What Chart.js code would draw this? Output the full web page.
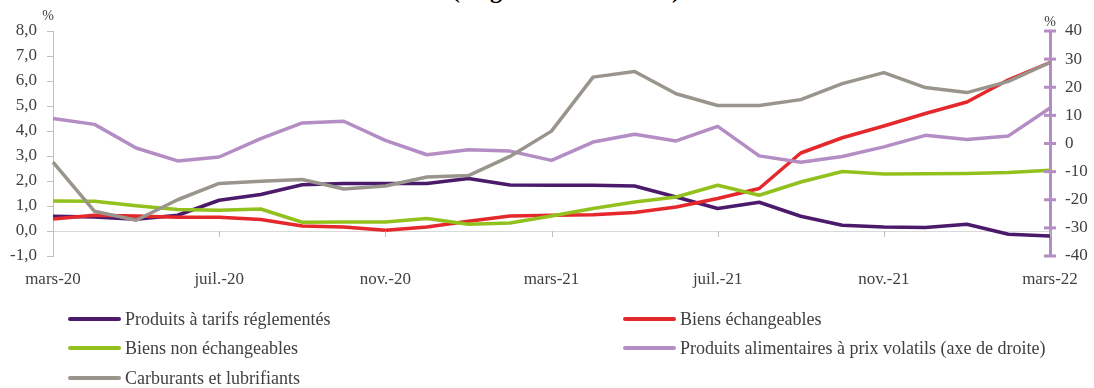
<!DOCTYPE html>
<html>
<head>
<meta charset="utf-8">
<script src="https://cdn.jsdelivr.net/npm/chart.js@4.4.1/dist/chart.umd.min.js"></script>
<style>
  body { margin: 0; background: #fff; width: 1094px; height: 388px; overflow: hidden; position: relative; font-family: "Liberation Serif", serif; }
  .title { position: absolute; left: 0; width: 1132px; top: -22px; text-align: center; font-weight: bold; font-size: 24px; line-height: 24px; color: #000; }
  #wrap { position: absolute; left: 0; top: 0; width: 1094px; height: 300px; }
  .legend { position: absolute; left: 0; top: 0; width: 1094px; height: 388px; pointer-events: none; }
  .item { position: absolute; display: flex; align-items: center; font-size: 18px; line-height: 20px; color: #404040; white-space: nowrap; }
  .item span.line { display: inline-block; width: 53px; height: 4px; margin-right: 4px; border-radius: 2px; }
</style>
</head>
<body>
<div class="title">(en glissement annuel)</div>
<div id="wrap"><canvas id="myChart" width="1094" height="300"></canvas></div>
<div class="legend" id="legend"></div>
<script>
const months = ['mars-20', 'avr.-20', 'mai-20', 'juin-20', 'juil.-20', 'août-20', 'sept.-20', 'oct.-20', 'nov.-20', 'déc.-20',
  'janv.-21', 'févr.-21', 'mars-21', 'avr.-21', 'mai-21', 'juin-21', 'juil.-21', 'août-21', 'sept.-21', 'oct.-21',
  'nov.-21', 'déc.-21', 'janv.-22', 'févr.-22', 'mars-22'];

const tarifsReglementes = [0.59, 0.56, 0.47, 0.63, 1.23, 1.46, 1.85, 1.9, 1.9, 1.9, 2.1, 1.84, 1.83, 1.83, 1.8, 1.36, 0.9, 1.15, 0.59, 0.23, 0.16, 0.14, 0.27, -0.13, -0.2];
const biensEchangeables = [0.48, 0.63, 0.6, 0.55, 0.55, 0.46, 0.2, 0.16, 0.03, 0.16, 0.39, 0.6, 0.63, 0.65, 0.74, 0.96, 1.3, 1.7, 3.12, 3.73, 4.2, 4.7, 5.16, 6.05, 6.74];
const biensNonEchangeables = [1.2, 1.19, 1.01, 0.86, 0.83, 0.88, 0.35, 0.36, 0.36, 0.5, 0.27, 0.32, 0.6, 0.9, 1.16, 1.36, 1.83, 1.43, 1.96, 2.38, 2.28, 2.29, 2.3, 2.34, 2.43];
// axe de droite
const alimentairesVolatils = [8.9, 6.8, -1.6, -6.2, -4.8, 1.7, 7.3, 7.9, 1.1, -4.0, -2.2, -2.7, -6.0, 0.5, 3.3, 0.9, 6.1, -4.4, -6.7, -4.6, -1.2, 2.9, 1.4, 2.7, 12.6];
const carburants = [-6.6, -24.1, -27.3, -20, -14.2, -13.4, -12.8, -16.2, -15.1, -11.9, -11.4, -4.6, 4.4, 23.6, 25.6, 17.7, 13.5, 13.5, 15.6, 21.3, 25.2, 19.9, 18.1, 22.1, 28.8];

const leftTicks = { min: -1, max: 8, step: 1 };
const rightTicks = { min: -40, max: 40, step: 10 };

const textColor = '#404040';
const axisGrey = '#BFBFBF';
const lilac = '#B48DC4';

const fmt = v => v.toFixed(1).replace('.', ',');

const decor = {
  id: 'decor',
  afterDraw(chart) {
    const ctx = chart.ctx;
    const x = chart.scales.x, yl = chart.scales.y, yr = chart.scales.y1;
    ctx.save();
    // petits traits sur l'axe horizontal (a 0)
    const y0 = yl.getPixelForValue(0);
    ctx.strokeStyle = axisGrey;
    ctx.lineWidth = 1;
    for (let i = 0; i < months.length; i += 4) {
      const px = Math.round(x.getPixelForValue(i)) + 0.5;
      ctx.beginPath();
      ctx.moveTo(px, y0);
      ctx.lineTo(px, y0 + 6);
      ctx.stroke();
    }
    // graduations de l'axe de droite
    ctx.strokeStyle = lilac;
    ctx.lineWidth = 3;
    yr.ticks.forEach(t => {
      const py = yr.getPixelForValue(t.value);
      ctx.beginPath();
      ctx.moveTo(yr.left - 6, py);
      ctx.lineTo(yr.left + 6, py);
      ctx.stroke();
    });
    // unites
    ctx.fillStyle = textColor;
    ctx.font = '14px "Liberation Serif"';
    ctx.textAlign = 'center';
    ctx.textBaseline = 'middle';
    ctx.fillText('%', yl.right - 5, 16);
    ctx.fillText('%', yr.left, 22);
    ctx.restore();
  }
};

const ctx = document.getElementById('myChart').getContext('2d');
const chart = new Chart(ctx, {
  type: 'line',
  data: {
    labels: months,
    datasets: [
      { label: 'Produits à tarifs réglementés', data: tarifsReglementes, borderColor: '#4B1A6B', yAxisID: 'y', order: 5 },
      { label: 'Biens échangeables', data: biensEchangeables, borderColor: '#E4282B', yAxisID: 'y', order: 4 },
      { label: 'Biens non échangeables', data: biensNonEchangeables, borderColor: '#92C11E', yAxisID: 'y', order: 3 },
      { label: 'Produits alimentaires à prix volatils (axe de droite)', data: alimentairesVolatils, borderColor: lilac, yAxisID: 'y1', order: 2 },
      { label: 'Carburants et lubrifiants', data: carburants, borderColor: '#9A958C', yAxisID: 'y1', order: 1 }
    ]
  },
  options: {
    responsive: false,
    animation: false,
    devicePixelRatio: 1,
    layout: { padding: { top: 31, left: 0, right: 0, bottom: 0 } },
    elements: {
      line: { borderWidth: 3.5, tension: 0, borderJoinStyle: 'round', fill: false },
      point: { radius: 0, hoverRadius: 0 }
    },
    plugins: { legend: { display: false }, tooltip: { enabled: false } },
    scales: {
      x: {
        afterFit: s => { s.height = 44; },
        grid: { display: false, drawTicks: false },
        border: { display: false },
        ticks: {
          autoSkip: false, maxRotation: 0, padding: 13, color: textColor,
          font: { family: 'Liberation Serif', size: 17 },
          callback: (v, i) => (i % 4 === 0 ? months[i] : '')
        }
      },
      y: {
        position: 'left',
        min: leftTicks.min, max: leftTicks.max,
        afterFit: s => { s.width = 53; },
        ticks: { stepSize: leftTicks.step, padding: 10, color: textColor, font: { family: 'Liberation Serif', size: 17 }, callback: v => fmt(v) },
        grid: {
          color: c => (c.tick && c.tick.value === 0 ? '#D9D9D9' : 'rgba(0,0,0,0)'),
          tickColor: axisGrey, tickLength: 6, lineWidth: 1
        },
        border: { color: axisGrey, width: 1 }
      },
      y1: {
        position: 'right',
        min: rightTicks.min, max: rightTicks.max,
        afterFit: s => { s.width = 44; },
        ticks: { stepSize: rightTicks.step, padding: 15, color: textColor, font: { family: 'Liberation Serif', size: 17 } },
        grid: { drawOnChartArea: false, drawTicks: false },
        border: { color: lilac, width: 3 }
      }
    }
  },
  plugins: [decor]
});

// legende en deux colonnes
const legendPos = [[68, 319], [623, 319], [68, 348], [623, 348], [68, 378]];
const legend = document.getElementById('legend');
chart.data.datasets.forEach((ds, i) => {
  const el = document.createElement('div');
  el.className = 'item';
  el.style.left = legendPos[i][0] + 'px';
  el.style.top = (legendPos[i][1] - 10) + 'px';
  el.innerHTML = '<span class="line" style="background:' + ds.borderColor + '"></span>' + ds.label;
  legend.appendChild(el);
});
</script>
</body>
</html>
